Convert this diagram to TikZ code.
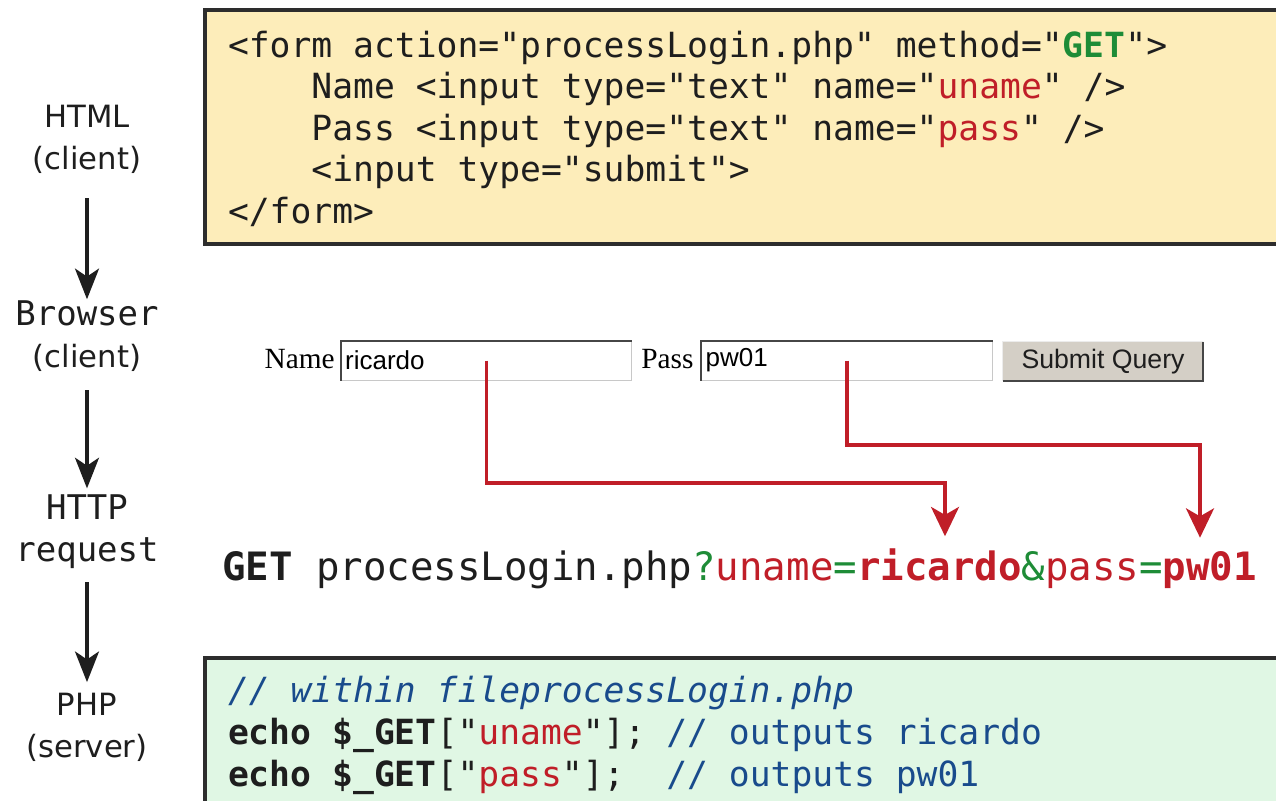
\documentclass[tikz,border=0pt]{standalone}
\usepackage{fontspec}
\setmonofont{DejaVu Sans Mono}
\newfontfamily\labfont{DejaVu Sans}
\newfontfamily\timesx{Liberation Serif}
\newfontfamily\arialx{Liberation Sans}
\usetikzlibrary{arrows.meta,calc}
\definecolor{cgreen}{RGB}{30,140,55}
\definecolor{cred}{RGB}{192,30,40}
\definecolor{cblue}{RGB}{25,75,140}
\definecolor{cblack}{RGB}{30,30,30}
\definecolor{yellowbg}{RGB}{253,237,186}
\definecolor{greenbg}{RGB}{224,247,228}
\definecolor{boxline}{RGB}{45,45,45}
\definecolor{btnfill}{RGB}{212,207,198}
\definecolor{fieldlight}{RGB}{200,200,200}
\definecolor{fielddark}{RGB}{70,70,70}
\newcommand\codefont{\ttfamily\fontsize{26}{31}\selectfont}
\newcommand\getfont{\ttfamily\fontsize{29.3}{35}\selectfont}
\newcommand\labsize{\fontsize{23}{31.5}\selectfont}
\newcommand\labmono{\ttfamily\fontsize{25.5}{31.5}\selectfont}
\begin{document}
\begin{tikzpicture}[x=0.75pt,y=-0.75pt,
  codebox/.style={draw=boxline, line width=2.6pt},
  codeline/.style={anchor=base west, inner sep=0pt, outer sep=0pt, font=\codefont, text=cblack},
  getpart/.style={anchor=base west, inner sep=0pt, outer sep=0pt, font=\getfont, text=cblack},
  lab/.style={align=center, inner sep=0pt, outer sep=0pt, font=\labfont\labsize, text=cblack},
  flow/.style={-{Stealth[length=23pt,width=18pt,inset=6pt]}, line width=2.4pt, draw=cblack},
  redflow/.style={-{Stealth[length=22pt,width=21pt,inset=6pt]}, line width=2.6pt, draw=cred},
  field/.style={draw=fieldlight, fill=white, line width=0.75pt, minimum height=29.25pt,
    text width=212pt, align=left, inner xsep=3pt, inner ysep=0pt, font=\arialx\fontsize{19.5}{24}\selectfont},
  formlabel/.style={inner sep=0pt, font=\timesx\fontsize{22}{26}\selectfont, text=black},
  button/.style={fill=btnfill, minimum width=150pt, minimum height=29.25pt, inner sep=0pt,
    font=\arialx\fontsize{20}{24}\selectfont, text=cblack}
]
\useasboundingbox (0,0) rectangle (1276,800);
\clip (0,0) rectangle (1276,800);
\fill[white] (0,0) rectangle (1276,800);

% code boxes
\path[codebox, fill=yellowbg] (205,10) rectangle (1295,244);
\path[codebox, fill=greenbg] (205,658) rectangle (1295,815);

% HTML code
\node[codeline] (h1) at (228,57) {<form action="processLogin.php" method="\textcolor{cgreen}{\bfseries GET}">};
\node[codeline] (h2) at (228,98.5) {\hphantom{0000}Name <input type="text" name="\textcolor{cred}{uname}" />};
\node[codeline] (h3) at (228,140) {\hphantom{0000}Pass <input type="text" name="\textcolor{cred}{pass}" />};
\node[codeline] (h4) at (228,181.5) {\hphantom{0000}<input type="submit">};
\node[codeline] (h5) at (228,223) {</form>};

% PHP code
\node[codeline, text=cblue, font=\codefont\itshape] (p1) at (228,702) {// within fileprocessLogin.php};
\node[codeline] (p2) at (228,744) {\textbf{echo \$\_GET}["\textcolor{cred}{uname}"]; \textcolor{cblue}{// outputs ricardo}};
\node[codeline] (p3) at (228,786) {\textbf{echo \$\_GET}["\textcolor{cred}{pass}"];\ \ \textcolor{cblue}{// outputs pw01}};

% browser form
\node[formlabel, anchor=base east] (namel) at (335,368) {Name};
\node[field] (f1) at (486.5,360.5) {ricardo};
\draw[fielddark, line width=1.5pt] (f1.south west) -- (f1.north west) -- (f1.north east);
\node[formlabel, anchor=base west] (passl) at (641,368) {Pass};
\node[field] (f2) at (847,360.5) {pw01};
\draw[fielddark, line width=1.5pt] (f2.south west) -- (f2.north west) -- (f2.north east);
\node[button] (sub) at (1103,361.5) {Submit Query};
\draw[white!85!gray, line width=1pt] (sub.south west) -- (sub.north west) -- (sub.north east);
\draw[fielddark, line width=1.5pt] (sub.north east) -- (sub.south east) -- (sub.south west);

% HTTP request line
\node[getpart] (g1) at (222,580) {\textbf{GET} processLogin.php\textcolor{cgreen}{?}\textcolor{cred}{uname}\textcolor{cgreen}{=}};
\node[getpart, text=cred, font=\getfont\bfseries] (ric) at (g1.base east) {ricardo};
\node[getpart] (g2) at (ric.base east) {\textcolor{cgreen}{\&}\textcolor{cred}{pass}\textcolor{cgreen}{=}};
\node[getpart, text=cred, font=\getfont\bfseries] (pwv) at (g2.base east) {pw01};

% red connectors
\coordinate (bend1) at (945,483);
\coordinate (bend2) at (1200,445);
\draw[redflow, shorten >=9pt] (f1.center) |- (bend1) -- (bend1 |- ric.north);
\draw[redflow, shorten >=10pt] (f2.center) |- (bend2) -- (bend2 |- pwv.north);

% left labels
\node[lab] (html) at (87,139) {HTML\\(client)};
\node[lab] (browser) at (87,336) {{\labmono Browser}\\(client)};
\node[lab] (http) at (87,532) {{\labmono HTTP}\\{\labmono request}};
\node[lab] (php) at (87,727) {PHP\\(server)};

\draw[flow, shorten <=18.75pt, shorten >=1pt] (html) -- (browser);
\draw[flow, shorten <=14pt, shorten >=5pt] (browser) -- (http);
\draw[flow, shorten <=10pt, shorten >=8pt] (http) -- (php);
\end{tikzpicture}
\end{document}
